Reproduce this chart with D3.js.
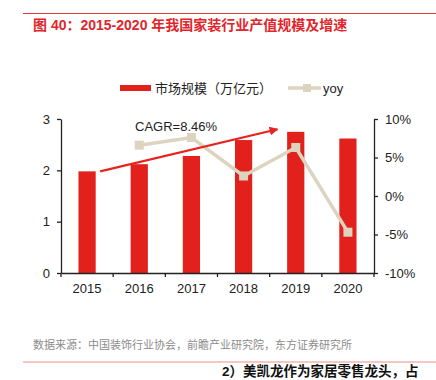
<!DOCTYPE html>
<html>
<head>
<meta charset="utf-8">
<script src="https://d3js.org/d3.v7.min.js"></script>
<style>
  body { margin: 0; background: #fff; }
  svg { display: block; font-family: "Liberation Sans", Arial, "Noto Sans CJK SC", sans-serif; }
</style>
</head>
<body>
<div id="chart"></div>
<script>
const years = ["2015", "2016", "2017", "2018", "2019", "2020"];
const marketSize = [1.98, 2.12, 2.28, 2.59, 2.75, 2.62];   // 万亿元
const yoy = [null, 6.6, 7.6, 2.6, 6.3, -4.7];                // %
const leftTicks = [0, 1, 2, 3];
const rightTicks = [-10, -5, 0, 5, 10];
// CAGR arrow in data units: [category offset, value]
const cagrArrow = [[0.25, 1.98], [3.65, 2.80]];

const W = 436, H = 380;
const plot = {left: 61, right: 374, top: 119, bottom: 273};
const barColor = "#e2211c", lineColor = "#ddd4bf";
const mixed = '"Liberation Sans", Arial, "Noto Sans CJK SC", sans-serif';

const svg = d3.select("#chart").append("svg").attr("width", W).attr("height", H);

// header
svg.append("line").attr("x1", 23).attr("x2", 436).attr("y1", 13.5).attr("y2", 13.5)
  .attr("stroke", "#e0393a").attr("stroke-width", 1);
svg.append("text").attr("x", 33).attr("y", 30).attr("fill", "#e0262b")
  .style("font-size", "14px").style("font-weight", "bold").style("font-family", mixed)
  .text("图 40：2015-2020 年我国家装行业产值规模及增速");

const x = d3.scaleBand().domain(years).range([plot.left, plot.right]).paddingInner(0.67).paddingOuter(0.335);
const xc = d => x(years[0]) + x.bandwidth() / 2 + d * x.step();
const y = d3.scaleLinear().domain([0, 3]).range([plot.bottom, plot.top]);
const y2 = d3.scaleLinear().domain([-10, 10]).range([plot.bottom, plot.top]);

// bars
svg.selectAll("rect.bar").data(marketSize).enter().append("rect")
  .attr("class", "bar")
  .attr("x", (d, i) => x(years[i]))
  .attr("width", x.bandwidth())
  .attr("y", d => y(d))
  .attr("height", d => y(0) - y(d))
  .attr("fill", barColor);

// axes
const axisStyle = g => {
  g.select(".domain").attr("stroke", "#222").attr("stroke-width", 1.3);
  g.selectAll(".tick line").attr("stroke", "#222").attr("stroke-width", 1.3);
  g.selectAll(".tick text").attr("fill", "#222").style("font-size", "13px")
    .style("font-family", '"Liberation Sans", Arial, sans-serif');
};
svg.append("g").attr("transform", `translate(0,${plot.bottom})`)
  .call(d3.axisBottom(x).tickSize(4).tickSizeOuter(0).tickPadding(7).tickValues([]))
  .call(axisStyle);
// x tick marks between categories
svg.append("g").selectAll("line").data(d3.range(years.length + 1)).enter().append("line")
  .attr("x1", i => plot.left + i * x.step()).attr("x2", i => plot.left + i * x.step())
  .attr("y1", plot.bottom).attr("y2", plot.bottom + 4).attr("stroke", "#222").attr("stroke-width", 1.3);
svg.append("g").selectAll("text").data(years).enter().append("text")
  .attr("x", d => x(d) + x.bandwidth() / 2).attr("y", plot.bottom + 20)
  .attr("text-anchor", "middle").attr("fill", "#222").style("font-size", "13px").text(d => d);

svg.append("g").attr("transform", `translate(${plot.left},0)`)
  .call(d3.axisLeft(y).tickValues(leftTicks).tickSize(4).tickPadding(7).tickSizeOuter(0)
    .tickFormat(d3.format("d")))
  .call(axisStyle);
svg.append("g").attr("transform", `translate(${plot.right},0)`)
  .call(d3.axisRight(y2).tickValues(rightTicks).tickSize(4).tickPadding(7).tickSizeOuter(0)
    .tickFormat(d => d + "%"))
  .call(axisStyle);

// yoy line
const pts = yoy.map((v, i) => [i, v]).filter(d => d[1] !== null);
svg.append("path").datum(pts)
  .attr("d", d3.line().x(d => xc(d[0])).y(d => y2(d[1])))
  .attr("fill", "none").attr("stroke", lineColor).attr("stroke-width", 3.5);
svg.selectAll("rect.mk").data(pts).enter().append("rect")
  .attr("class", "mk")
  .attr("x", d => xc(d[0]) - 4.5).attr("y", d => y2(d[1]) - 4.5)
  .attr("width", 9).attr("height", 9).attr("fill", lineColor);

// CAGR arrow
svg.append("defs").append("marker").attr("id", "ah")
  .attr("viewBox", "0 0 10 10").attr("refX", 9).attr("refY", 5)
  .attr("markerWidth", 4).attr("markerHeight", 4).attr("orient", "auto")
  .append("path").attr("d", "M0,0 L10,5 L0,10 z").attr("fill", "#e8231f");
svg.append("line")
  .attr("x1", xc(cagrArrow[0][0])).attr("y1", y(cagrArrow[0][1]))
  .attr("x2", xc(cagrArrow[1][0])).attr("y2", y(cagrArrow[1][1]))
  .attr("stroke", "#e8231f").attr("stroke-width", 2.2).attr("marker-end", "url(#ah)");
svg.append("text").attr("x", 135).attr("y", 131).attr("fill", "#222")
  .style("font-size", "13px").text("CAGR=8.46%");

// legend
svg.append("rect").attr("x", 120).attr("y", 85).attr("width", 31).attr("height", 6).attr("fill", barColor);
svg.append("text").attr("x", 155).attr("y", 93).attr("fill", "#222")
  .style("font-size", "13px").style("font-family", mixed).text("市场规模（万亿元）");
svg.append("line").attr("x1", 288).attr("x2", 321).attr("y1", 88).attr("y2", 88)
  .attr("stroke", lineColor).attr("stroke-width", 3.5);
svg.append("rect").attr("x", 303).attr("y", 84).attr("width", 8).attr("height", 8).attr("fill", lineColor);
svg.append("text").attr("x", 323).attr("y", 93).attr("fill", "#222")
  .style("font-size", "13px").text("yoy");

// footer
svg.append("text").attr("x", 33).attr("y", 349).attr("fill", "#8c8c8c")
  .style("font-size", "11px").style("font-family", mixed)
  .text("数据来源：中国装饰行业协会，前瞻产业研究院，东方证券研究所");
svg.append("line").attr("x1", 23).attr("x2", 436).attr("y1", 362).attr("y2", 362)
  .attr("stroke", "#ef8f8c").attr("stroke-width", 1.2);
svg.append("text").attr("x", 222).attr("y", 376).attr("fill", "#111")
  .style("font-size", "13.5px").style("font-weight", "bold").style("font-family", mixed)
  .text("2）美凯龙作为家居零售龙头，占");
</script>
</body>
</html>
